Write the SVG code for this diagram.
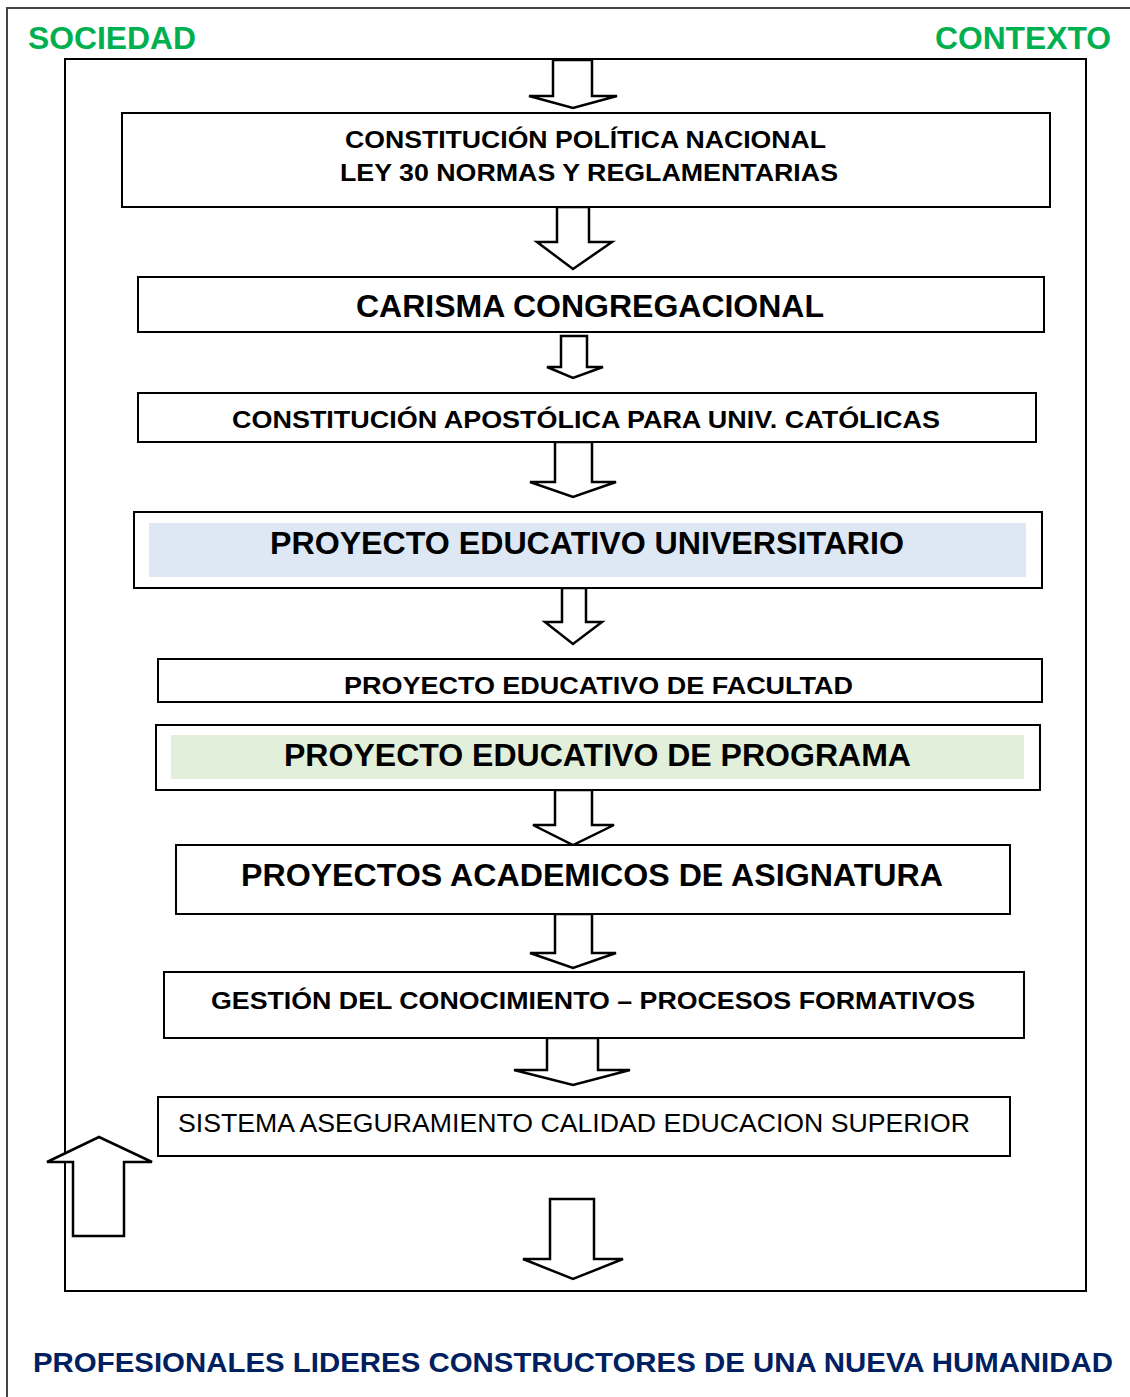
<svg xmlns="http://www.w3.org/2000/svg" width="1130" height="1397" viewBox="0 0 1130 1397">
<style>
.box{fill:#fff;stroke:#000;stroke-width:2}
.arr{fill:#fff;stroke:#000;stroke-width:2.5;stroke-linejoin:miter}
.t{font-family:"Liberation Sans",Arial,sans-serif;font-weight:bold;fill:#000}
.g{font-family:"Liberation Sans",Arial,sans-serif;font-weight:bold;fill:#00b050;font-size:31px}
</style>
<rect x="0" y="0" width="1130" height="1397" fill="#fff"/>
<rect x="7" y="8" width="1135" height="1400" fill="none" stroke="#444" stroke-width="2"/>
<text class="g" x="28" y="49" textLength="168" lengthAdjust="spacingAndGlyphs">SOCIEDAD</text>
<text class="g" x="935" y="49" textLength="176" lengthAdjust="spacingAndGlyphs">CONTEXTO</text>
<rect x="65" y="59" width="1021" height="1232" fill="none" stroke="#000" stroke-width="2"/>
<g id="connectors">
<polygon class="arr" points="553,60 592,60 592,96 617,96 573,108 529,96 553,96"/>
<polygon class="arr" points="557,207 589,207 589,242 612,242 573,269 537,242 557,242"/>
<polygon class="arr" points="561,336 587,336 587,367 603,367 573,378 547,367 561,367"/>
<polygon class="arr" points="555,442 592,442 592,482 616,482 573,497 530,482 555,482"/>
<polygon class="arr" points="562,588 586,588 586,622 602,622 573,644 545,622 562,622"/>
<polygon class="arr" points="555,790 592,790 592,825 614,825 573,845 533,825 555,825"/>
<polygon class="arr" points="555,914 592,914 592,953 616,953 573,968 530,953 555,953"/>
<polygon class="arr" points="547,1038 598,1038 598,1070 630,1070 573,1085 514,1070 547,1070"/>
<polygon class="arr" points="550,1199 594,1199 594,1259 623,1259 573,1279 523,1259 550,1259"/>
<polygon class="arr" points="73,1236 124,1236 124,1162 152,1162 99,1137 47,1162 73,1162" stroke-width="2"/>
</g>
<g id="n1"><rect class="box" x="122" y="113" width="928" height="94"/>
<text class="t" x="345" y="148" font-size="24" textLength="481" lengthAdjust="spacingAndGlyphs">CONSTITUCIÓN POLÍTICA NACIONAL</text>
<text class="t" x="340" y="181" font-size="24" textLength="498" lengthAdjust="spacingAndGlyphs">LEY 30 NORMAS Y REGLAMENTARIAS</text></g>
<g id="n2"><rect class="box" x="138" y="277" width="906" height="55"/>
<text class="t" x="356" y="317" font-size="31" textLength="468" lengthAdjust="spacingAndGlyphs">CARISMA CONGREGACIONAL</text></g>
<g id="n3"><rect class="box" x="138" y="393" width="898" height="49"/>
<text class="t" x="232" y="428" font-size="24" textLength="708" lengthAdjust="spacingAndGlyphs">CONSTITUCIÓN APOSTÓLICA PARA UNIV. CATÓLICAS</text></g>
<g id="n4"><rect class="box" x="134" y="512" width="908" height="76"/>
<rect x="149" y="523" width="877" height="54" fill="#dde8f4"/>
<text class="t" x="270" y="554" font-size="31" textLength="634" lengthAdjust="spacingAndGlyphs">PROYECTO EDUCATIVO UNIVERSITARIO</text></g>
<g id="n5"><rect class="box" x="158" y="659" width="884" height="43"/>
<text class="t" x="344" y="694" font-size="24" textLength="509" lengthAdjust="spacingAndGlyphs">PROYECTO EDUCATIVO DE FACULTAD</text></g>
<g id="n6"><rect class="box" x="156" y="725" width="884" height="65"/>
<rect x="171" y="735" width="853" height="44" fill="#e2efda"/>
<text class="t" x="284" y="766" font-size="31" textLength="627" lengthAdjust="spacingAndGlyphs">PROYECTO EDUCATIVO DE PROGRAMA</text></g>
<g id="n7"><rect class="box" x="176" y="845" width="834" height="69"/>
<text class="t" x="241" y="886" font-size="31" textLength="702" lengthAdjust="spacingAndGlyphs">PROYECTOS ACADEMICOS DE ASIGNATURA</text></g>
<g id="n8"><rect class="box" x="164" y="972" width="860" height="66"/>
<text class="t" x="211" y="1009" font-size="24" textLength="764" lengthAdjust="spacingAndGlyphs">GESTIÓN DEL CONOCIMIENTO – PROCESOS FORMATIVOS</text></g>
<g id="n9"><rect class="box" x="158" y="1097" width="852" height="59"/>
<text x="178" y="1132" font-family="Liberation Sans, Arial, sans-serif" font-size="25" fill="#000" textLength="792" lengthAdjust="spacingAndGlyphs">SISTEMA ASEGURAMIENTO CALIDAD EDUCACION SUPERIOR</text></g>
<text x="33" y="1372" font-family="Liberation Sans, Arial, sans-serif" font-weight="bold" font-size="28" fill="#002060" textLength="1080" lengthAdjust="spacingAndGlyphs">PROFESIONALES LIDERES CONSTRUCTORES DE UNA NUEVA HUMANIDAD</text>
</svg>
